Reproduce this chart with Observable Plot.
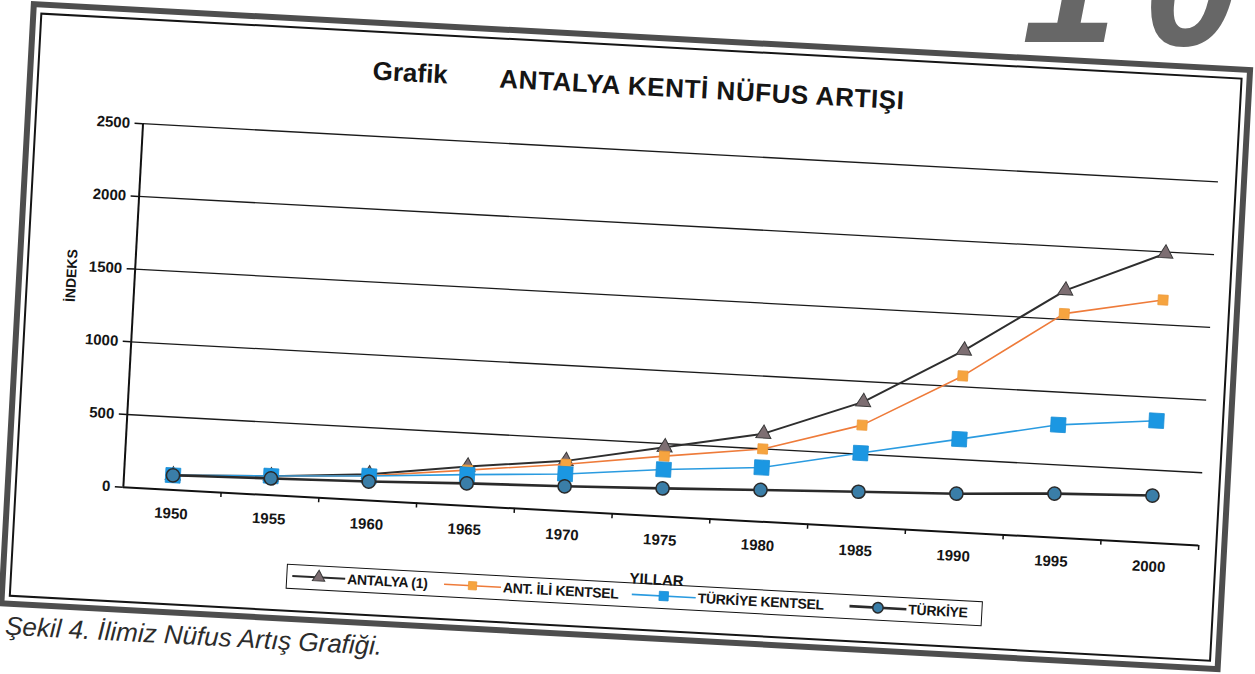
<!DOCTYPE html>
<html>
<head>
<meta charset="utf-8">
<script src="https://cdn.jsdelivr.net/npm/d3@7"></script>
<script src="https://cdn.jsdelivr.net/npm/@observablehq/plot@0.6"></script>
<style>
html,body{margin:0;padding:0;background:#fff;width:1255px;height:674px;overflow:hidden;font-family:"Liberation Sans",Arial,sans-serif;color:#151515;}
#wrap{position:absolute;left:31px;top:1px;width:1224px;height:606px;transform-origin:0 0;transform:rotate(3.1deg);}
.outer{position:absolute;left:0;top:0;width:1224px;height:606px;border:6px solid #4e4e4e;box-sizing:border-box;}
.inner{position:absolute;left:10px;top:11px;width:1204px;height:585px;border:2px solid #151515;box-sizing:border-box;}
.abs{position:absolute;white-space:nowrap;}
#chart{position:absolute;left:0;top:100px;}
#legend{position:absolute;left:286px;top:548px;width:697px;height:25px;border:1.5px solid #111;box-sizing:border-box;background:#fff;}
.lgtext{position:absolute;top:0;height:22px;line-height:22px;font-size:14px;font-weight:bold;letter-spacing:-0.3px;}
.lgsw{position:absolute;top:0;}
#pagenum span{position:absolute;font-size:170px;line-height:170px;font-weight:bold;font-style:italic;color:#676767;}
</style>
</head>
<body>
<div id="pagenum"><span style="left:1022px;top:-102px;">1</span><span style="left:1144px;top:-99px;">0</span></div>
<div id="wrap">
  <div class="outer"></div>
  <div class="inner"></div>
  <div class="abs" id="t1" style="left:345px;top:36px;font-size:26px;line-height:30px;font-weight:bold;"></div>
  <div class="abs" id="t2" style="left:472px;top:37px;font-size:26px;line-height:30px;font-weight:bold;letter-spacing:0.6px;"></div>
  <div id="chart"></div>
  <div id="legend"></div>
  <div class="abs" id="xlab" style="left:656px;top:536px;transform:translateX(-50%);font-size:15px;line-height:16px;font-weight:bold;z-index:2;"></div>
  <div class="abs" id="caption" style="left:8px;top:612px;font-size:26px;line-height:26px;font-style:italic;color:#2c2c2c;"></div>
</div>
<script>
// ---- data ----
const years = [1950, 1955, 1960, 1965, 1970, 1975, 1980, 1985, 1990, 1995, 2000];
const antalya        = [100, 130, 180, 270, 345, 475, 605, 860, 1250, 1700, 1990];
const antIliKentsel  = [100, 128, 170, 245, 322, 414, 500, 700, 1075, 1540, 1670];
const turkiyeKentsel = [100, 132, 168, 214, 255, 322, 372, 508, 640, 775, 840];
const turkiye        = [100, 115, 130, 154, 170, 192, 218, 242, 265, 302, 325];
const seriesNames = ["ANTALYA (1)", "ANT. İLİ KENTSEL", "TÜRKİYE KENTSEL", "TÜRKİYE"];
const yTicks = [0, 500, 1000, 1500, 2000, 2500];
const titleLeft = "Grafik";
const titleMain = "ANTALYA KENTİ NÜFUS ARTIŞI";
const yLabel = "İNDEKS";
const xLabel = "YILLAR";
const captionText = "Şekil 4. İlimiz Nüfus Artış Grafiği.";

// ---- styles ----
const styles = [
  {line: "#2e2e2e", lw: 2,   symbol: "triangle", r: 5.6, fill: "#7d6e72", stroke: "#3a3a3a", sw: 1},
  {line: "#ee7b3a", lw: 1.6, symbol: "square",   r: 5.6, fill: "#f6a43f", stroke: "#ee9a3c", sw: 0.8},
  {line: "#2a9be0", lw: 1.6, symbol: "square",   r: 8.4, fill: "#1b97e2", stroke: "#1b8fd6", sw: 0.8},
  {line: "#2a2a2a", lw: 2.6, symbol: "circle",   r: 6.6, fill: "#3a7ea8", stroke: "#2a2a2a", sw: 1.5}
];
const allSeries = [antalya, antIliKentsel, turkiyeKentsel, turkiye];

document.getElementById("t1").textContent = titleLeft;
document.getElementById("t2").textContent = titleMain;
document.getElementById("xlab").textContent = xLabel;
document.getElementById("caption").textContent = captionText;

const half = 2.5;
const xDomain = [years[0] - half, years[years.length - 1] + half];
const boundaries = years.map(y => y + half);

const marks = [
  Plot.gridY(yTicks.slice(1), {stroke: "#1a1a1a", strokeOpacity: 1, strokeWidth: 1.3}),
  Plot.ruleX([xDomain[0]], {stroke: "#111", strokeWidth: 2}),
  Plot.ruleY([0], {stroke: "#111", strokeWidth: 2}),
  Plot.axisY(yTicks, {tickSize: 8, tickPadding: 5, tickFormat: d => String(d), label: null, stroke: "#111", strokeWidth: 1.5}),
  Plot.axisX(boundaries, {tickSize: 5, tickFormat: () => "", label: null, stroke: "#111", strokeWidth: 1.5}),
  Plot.axisX(years, {tickSize: 0, tickPadding: 18, tickFormat: d => String(d), label: null}),
  Plot.text([yLabel], {frameAnchor: "left", dx: -63, rotate: -90, fontSize: 14, fontWeight: "bold", text: d => d})
];
allSeries.forEach((vals, i) => {
  const rows = years.map((yr, j) => ({year: yr, value: vals[j], series: seriesNames[i]}));
  const s = styles[i];
  marks.push(Plot.line(rows, {x: "year", y: "value", stroke: s.line, strokeWidth: s.lw}));
  marks.push(Plot.dot(rows, {x: "year", y: "value", symbol: s.symbol, r: s.r, fill: s.fill, stroke: s.stroke, strokeWidth: s.sw}));
});

const chart = Plot.plot({
  width: 1224,
  height: 420,
  marginLeft: 118,
  marginRight: 29,
  marginTop: 16,
  marginBottom: 40,
  x: {type: "linear", domain: xDomain},
  y: {domain: [0, 2500]},
  style: {background: "transparent", fontFamily: "'Liberation Sans', Arial, sans-serif", fontSize: "15px", fontWeight: "bold", color: "#151515", overflow: "visible"},
  marks
});
document.getElementById("chart").appendChild(chart);

// ---- legend ----
const legend = document.getElementById("legend");
const swatchPos = [[5, 53], [157, 57], [345, 64], [563, 57]];
const textPos = [60, 216, 411, 622];
const symMap = {triangle: d3.symbolTriangle, square: d3.symbolSquare, circle: d3.symbolCircle};
seriesNames.forEach((name, i) => {
  const s = styles[i];
  const [left, w] = swatchPos[i];
  const svg = d3.create("svg").attr("class", "lgsw").attr("width", w).attr("height", 22)
    .style("left", left + "px").style("overflow", "visible");
  svg.append("line").attr("x1", 0).attr("x2", w).attr("y1", 11).attr("y2", 11)
    .attr("stroke", i === 0 || i === 3 ? "#2a2a2a" : s.line).attr("stroke-width", Math.max(1.6, s.lw));
  const rr = i === 2 ? 5.2 : i === 3 ? 5.2 : 4.6;
  if (s.symbol === "circle") {
    svg.append("circle").attr("cx", w / 2).attr("cy", 11).attr("r", rr)
      .attr("fill", s.fill).attr("stroke", s.stroke).attr("stroke-width", s.sw);
  } else {
    svg.append("path").attr("transform", `translate(${w / 2},11)`)
      .attr("d", d3.symbol(symMap[s.symbol], rr * rr * Math.PI)())
      .attr("fill", s.fill).attr("stroke", s.stroke).attr("stroke-width", s.sw);
  }
  legend.appendChild(svg.node());
  const t = document.createElement("div");
  t.className = "lgtext";
  t.style.left = textPos[i] + "px";
  t.textContent = name;
  legend.appendChild(t);
});
</script>
</body>
</html>
